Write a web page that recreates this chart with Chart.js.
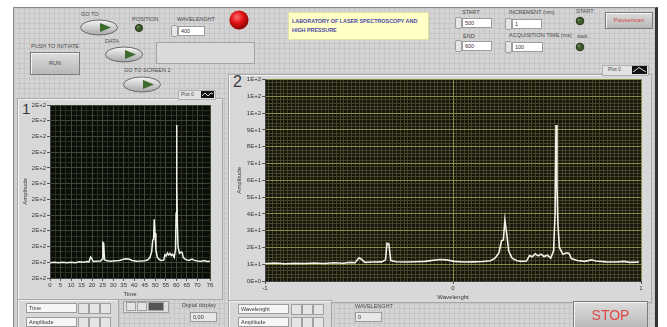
<!DOCTYPE html>
<html>
<head>
<meta charset="utf-8">
<script src="https://cdn.jsdelivr.net/npm/chart.js@4.4.1/dist/chart.umd.min.js"></script>
<style>
  html, body { margin: 0; padding: 0; }
  body { width: 667px; height: 327px; position: relative; overflow: hidden; background: #fff;
         font-family: "Liberation Sans", Arial, sans-serif; }
  .abs { position: absolute; }
  #panel { left: 13px; top: 7px; width: 641px; height: 322px; background-color: #d4d4d4;
           background-image: linear-gradient(#c6c6c6 1px, transparent 1px), linear-gradient(90deg, #c6c6c6 1px, transparent 1px);
           background-size: 5px 5px; border-left: 1px solid #8a8a8a; border-top: 1px solid #8a8a8a; border-right: 3px solid #333; }
  .lbl { position: absolute; font-size: 5.5px; color: #4a4a4a; white-space: nowrap; line-height: 1; }
  .box { position: absolute; background: #fff; border: 1px solid #9c9c9c; font-size: 5.5px; line-height: 8px;
         height: 8px; padding-left: 2px; color: #333; box-sizing: content-box; }
  .spin { position: absolute; width: 5px; height: 10px; border: 1px solid #a0a0a0; border-radius: 2px; background: #e6e6e6; }
  .frame { position: absolute; background: #d8d8d8; border: 1px solid #a8a8a8; box-shadow: inset 1px 1px 0 #f2f2f2; }
  .btn { position: absolute; background: linear-gradient(#dcdcdc, #b8b8b8); border: 1px solid #7c7c7c;
         box-shadow: inset 1px 1px 0 #f4f4f4; text-align: center; }
  .digit { position: absolute; font-size: 15px; color: #3c3c3c; line-height: 1; }
  .tool { position: absolute; width: 9px; height: 9px; border: 1px solid #a0a0a0; background: #e4e4e4; }
  canvas { position: absolute; }
</style>
</head>
<body>
<div id="panel" class="abs"></div>

<!-- top left controls -->
<div class="lbl" style="left:81px;top:12px">GO TO</div>
<svg class="abs" style="left:79px;top:19px" width="40" height="17">
  <defs><linearGradient id="g1" x1="0" y1="0" x2="0" y2="1"><stop offset="0" stop-color="#f6f6f6"/><stop offset="1" stop-color="#a6a6a6"/></linearGradient></defs>
  <ellipse cx="20" cy="8.5" rx="18.5" ry="7.5" fill="url(#g1)" stroke="#6a6a6a"/>
  <path d="M21 4 L32 8.5 L21 13 Z" fill="#3a6a2c"/>
</svg>
<div class="lbl" style="left:132px;top:17px">POSITION</div>
<svg class="abs" style="left:134px;top:23px" width="10" height="10"><circle cx="5" cy="5" r="3.6" fill="#3d5a2a" stroke="#2a3a1c"/><circle cx="4" cy="4" r="1.2" fill="#6f8a55"/></svg>
<div class="lbl" style="left:177px;top:17px">WAVELENGHT</div>
<div class="spin" style="left:171px;top:25px"></div>
<div class="box" style="left:178px;top:26px;width:23px">400</div>
<svg class="abs" style="left:228px;top:9px" width="22" height="22">
  <defs><radialGradient id="r1" cx="0.4" cy="0.35" r="0.65"><stop offset="0" stop-color="#ff7070"/><stop offset="0.5" stop-color="#e01212"/><stop offset="1" stop-color="#8a0606"/></radialGradient></defs>
  <circle cx="11" cy="11" r="9.6" fill="url(#r1)"/>
</svg>
<div class="abs" style="left:288px;top:12px;width:139px;height:26px;background:#ffffc6;border:1px solid #e2e2a8;">
  <div style="position:absolute;left:3px;top:4px;font-size:5.4px;font-weight:bold;color:#4848a8;line-height:8.5px;white-space:nowrap">LABORATORY OF LASER SPECTROSCOPY AND<br>HIGH PRESSURE</div>
</div>
<div class="lbl" style="left:31px;top:44px">PUSH TO INITIATE</div>
<div class="btn" style="left:30px;top:52px;width:48px;height:21px;font-size:5.5px;line-height:21px;color:#444">RUN</div>
<div class="lbl" style="left:105px;top:39px">DATA</div>
<svg class="abs" style="left:104px;top:46px" width="40" height="17">
  <ellipse cx="20" cy="8.5" rx="18.5" ry="7.5" fill="url(#g1)" stroke="#6a6a6a"/>
  <path d="M21 4 L32 8.5 L21 13 Z" fill="#3a6a2c"/>
</svg>
<div class="abs" style="left:156px;top:42px;width:97px;height:20px;background:#dadada;border:1px solid #a4a4a4"></div>
<div class="lbl" style="left:124px;top:68px">GO TO SCREEN 2</div>
<svg class="abs" style="left:122px;top:76px" width="40" height="17">
  <ellipse cx="20" cy="8.5" rx="18.5" ry="7.5" fill="url(#g1)" stroke="#6a6a6a"/>
  <path d="M21 4 L32 8.5 L21 13 Z" fill="#3a6a2c"/>
</svg>

<!-- top right controls -->
<div class="lbl" style="left:462px;top:10px">START</div>
<div class="spin" style="left:455px;top:17px"></div>
<div class="box" style="left:462px;top:18px;width:26px">500</div>
<div class="lbl" style="left:463px;top:34px">END</div>
<div class="spin" style="left:455px;top:40px"></div>
<div class="box" style="left:462px;top:41px;width:26px">600</div>
<div class="lbl" style="left:509px;top:10px">INCREMENT (nm)</div>
<div class="spin" style="left:505px;top:18px"></div>
<div class="box" style="left:512px;top:19px;width:26px">1</div>
<div class="lbl" style="left:509px;top:33px">ACQUISITION TIME (ms)</div>
<div class="spin" style="left:505px;top:41px"></div>
<div class="box" style="left:512px;top:42px;width:27px">100</div>
<div class="lbl" style="left:576px;top:9px">START</div>
<svg class="abs" style="left:575px;top:16px" width="10" height="10"><circle cx="5" cy="5" r="3.8" fill="#3d5a2a" stroke="#2a3a1c"/><circle cx="4" cy="4" r="1.2" fill="#6f8a55"/></svg>
<div class="lbl" style="left:577px;top:35px;font-size:4.5px">stack</div>
<svg class="abs" style="left:575px;top:42px" width="10" height="10"><circle cx="5" cy="5" r="3.8" fill="#3d5a2a" stroke="#2a3a1c"/><circle cx="4" cy="4" r="1.2" fill="#6f8a55"/></svg>
<div class="btn" style="left:605px;top:12px;width:46px;height:15px;font-size:6px;line-height:15px;color:#d24a4a">Pause/start</div>

<!-- graph 1 -->
<div class="frame" style="left:17px;top:98px;width:204px;height:200px"></div>
<div class="digit" style="left:22px;top:101px">1</div>
<div class="abs" style="left:178px;top:90px;width:36px;height:8px;background:#e2e2e2;border:1px solid #b0b0b0"></div>
<div class="lbl" style="left:181px;top:92px;font-size:5px">Plot 0</div>
<svg class="abs" style="left:201px;top:91px" width="13" height="7"><rect width="13" height="7" fill="#111"/><polyline points="1,5 4,2 7,5 10,2 12,3" fill="none" stroke="#eee" stroke-width="0.9"/></svg>
<canvas id="timeChart" width="202" height="198" style="left:18px;top:100px"></canvas>

<!-- graph 2 -->
<div class="frame" style="left:228px;top:74px;width:422px;height:227px"></div>
<div class="digit" style="left:233px;top:74px;font-size:16px">2</div>
<div class="abs" style="left:602px;top:65px;width:45px;height:9px;background:#e2e2e2;border:1px solid #b0b0b0"></div>
<div class="lbl" style="left:608px;top:67px;font-size:5px">Plot 0</div>
<svg class="abs" style="left:632px;top:66px" width="15" height="8"><rect width="15" height="8" fill="#111"/><polyline points="1,6 7,1.5 14,6" fill="none" stroke="#eee" stroke-width="0.9"/></svg>
<canvas id="waveChart" width="420" height="226" style="left:229px;top:75px"></canvas>

<!-- bottom strip graph 1 -->
<div class="frame" style="left:17px;top:299px;width:100px;height:30px"></div>
<div class="box" style="left:26px;top:303px;width:47px;background:#f6f6f6">Time</div>
<div class="tool" style="left:78px;top:303px"></div><div class="tool" style="left:89px;top:303px"></div><div class="tool" style="left:100px;top:303px"></div>
<div class="box" style="left:26px;top:317px;width:47px;background:#f6f6f6">Amplitude</div>
<div class="tool" style="left:78px;top:317px"></div><div class="tool" style="left:89px;top:317px"></div><div class="tool" style="left:100px;top:317px"></div>
<div class="abs" style="left:123px;top:301px;width:44px;height:10px;background:#dedede;border:1px solid #a0a0a0"></div>
<div class="tool" style="left:126px;top:302px;width:8px;height:7px"></div><div class="tool" style="left:137px;top:302px;width:8px;height:7px"></div><div class="tool" style="left:148px;top:302px;width:14px;height:7px;background:#555"></div>
<div class="lbl" style="left:182px;top:303px">Digital display</div>
<div class="box" style="left:190px;top:312px;width:23px;background:#e8e8e8">0,00</div>

<!-- bottom strip graph 2 -->
<div class="frame" style="left:228px;top:300px;width:102px;height:30px"></div>
<div class="box" style="left:238px;top:304px;width:47px;background:#f6f6f6">Wavelenght</div>
<div class="tool" style="left:291px;top:304px"></div><div class="tool" style="left:302px;top:304px"></div><div class="tool" style="left:313px;top:304px"></div>
<div class="box" style="left:238px;top:317px;width:47px;background:#f6f6f6">Amplitude</div>
<div class="tool" style="left:291px;top:317px"></div><div class="tool" style="left:302px;top:317px"></div><div class="tool" style="left:313px;top:317px"></div>
<div class="lbl" style="left:355px;top:304px">WAVELENGHT</div>
<div class="box" style="left:355px;top:312px;width:23px;background:#e8e8e8">0</div>
<div class="btn" style="left:573px;top:301px;width:73px;height:27px;font-size:14px;line-height:27px;color:#e04848">STOP</div>

<script>
// ======================
// DATA
// ======================

// x positions of the trace on graph 1 (time axis)
const timeAxis = [
  0, 2, 4, 6, 8, 10, 12, 14, 16, 17.5,
  18.5, 19.3, 19.8, 20.5, 22, 24, 24.8, 25.1, 25.5, 25.9,
  27, 29, 31, 33, 34.5, 36, 37.5, 39, 41, 43,
  45, 46.5, 47.5, 48.3, 48.8, 49.2, 49.5, 49.9, 50.3, 51,
  52, 53, 54, 54.6, 55.2, 55.8, 56.4, 57, 57.6, 58.3,
  59, 59.6, 59.9, 60.1, 60.3, 60.5, 60.8, 61.5, 62.3, 62.8,
  63.3, 64.5, 66, 67.5, 68.3, 70, 72, 73.5, 74.5, 76
];

// x positions of the same trace on graph 2 (wavelength axis)
const waveAxis = [
  -1.000, -0.945, -0.893, -0.842, -0.790, -0.739, -0.688, -0.636, -0.585, -0.546,
  -0.521, -0.500, -0.487, -0.469, -0.431, -0.379, -0.359, -0.351, -0.341, -0.331,
  -0.302, -0.251, -0.200, -0.148, -0.110, -0.071, -0.033, 0.006, 0.057, 0.109,
  0.160, 0.199, 0.224, 0.245, 0.258, 0.268, 0.276, 0.286, 0.296, 0.314,
  0.340, 0.366, 0.391, 0.407, 0.422, 0.437, 0.453, 0.468, 0.484, 0.502,
  0.520, 0.535, 0.543, 0.548, 0.553, 0.558, 0.566, 0.584, 0.605, 0.617,
  0.630, 0.661, 0.700, 0.738, 0.759, 0.815, 0.870, 0.910, 0.940, 0.990
];

// amplitude of the trace
const amplitude = [
  10.4, 10.7, 10.3, 10.6, 10.4, 10.7, 10.4, 10.9, 10.6, 11.1,
  10.9, 13.8, 13.0, 11.1, 11.3, 11.4, 12.6, 22.5, 22.0, 12.2,
  11.5, 11.3, 11.5, 11.7, 12.3, 12.8, 12.6, 11.7, 11.3, 11.4,
  11.6, 12.1, 13.6, 17.0, 24.0, 24.5, 36.4, 28.0, 18.0, 13.6,
  12.1, 11.7, 11.9, 15.2, 14.4, 16.2, 15.0, 16.0, 14.6, 15.4,
  13.6, 18.0, 40.0, 93.0, 58.0, 34.0, 20.0, 16.0, 16.8, 16.4,
  13.4, 12.2, 11.7, 12.6, 11.9, 11.4, 11.3, 11.7, 11.1, 11.3
];

// tick labels
const timeTicks = [0, 5, 10, 15, 20, 25, 30, 35, 40, 45, 50, 55, 60, 65, 70, 76];
const timeYLabel = "2E+2";
const waveTicks = [-1, 0, 1];
const waveYLabels = ["0E+0", "1E+1", "2E+1", "3E+1", "4E+1", "5E+1", "6E+1",
                     "7E+1", "8E+1", "9E+1", "1E+2", "1E+2", "1E+2"];

// ======================
// HELPERS
// ======================

const plotBackground = {
  id: "plotBackground",
  beforeDraw(chart, args, opts) {
    const { ctx, chartArea: a } = chart;
    ctx.save();
    ctx.fillStyle = opts.color;
    ctx.fillRect(a.left, a.top, a.width, a.height);
    ctx.restore();
  }
};

const smallFont = { family: "'Liberation Sans', Arial, sans-serif", size: 6 };

function evenTicks(scale, count) {
  const step = (scale.max - scale.min) / count;
  const ticks = [];
  for (let i = 0; i <= count; i++) ticks.push({ value: scale.min + i * step });
  scale.ticks = ticks;
}

// ======================
// GRAPH 1 : TIME
// ======================

new Chart(document.getElementById("timeChart"), {
  type: "line",
  data: {
    datasets: [{
      data: timeAxis.map((t, i) => ({ x: t, y: amplitude[i] })),
      borderColor: "#f2f2ea",
      borderWidth: 1.5,
      pointRadius: 0,
      tension: 0
    }]
  },
  plugins: [plotBackground],
  options: {
    responsive: false,
    animation: false,
    layout: { padding: { top: 5, right: 10, left: 0, bottom: 0 } },
    plugins: {
      legend: { display: false },
      tooltip: { enabled: false },
      plotBackground: { color: "#0b0e08" }
    },
    scales: {
      xMinor: {
        type: "linear", position: "bottom", min: 0, max: 76,
        ticks: { display: false, stepSize: 2.5 },
        grid: { color: "#27301f", z: -2, drawTicks: false },
        border: { display: false },
        afterFit: s => { s.height = 0; }
      },
      yMinor: {
        type: "linear", position: "left", min: 1.2, max: 105,
        afterBuildTicks: s => evenTicks(s, 33),
        ticks: { display: false },
        grid: { color: "#27301f", z: -2, drawTicks: false },
        border: { display: false },
        afterFit: s => { s.width = 0; }
      },
      x: {
        type: "linear", position: "bottom", min: 0, max: 76,
        afterBuildTicks: s => { s.ticks = timeTicks.map(v => ({ value: v })); },
        ticks: { font: smallFont, color: "#333", padding: 1, maxRotation: 0, autoSkip: false },
        grid: { color: "#3d4a33", tickColor: "#555", tickLength: 3 },
        border: { color: "#444" },
        title: { display: true, text: "Time", font: smallFont, color: "#333", padding: 0 },
        afterFit: s => { s.height = 20; }
      },
      y: {
        type: "linear", position: "left", min: 1.2, max: 105,
        afterBuildTicks: s => evenTicks(s, 11),
        ticks: { font: smallFont, color: "#333", padding: 1, callback: () => timeYLabel },
        grid: { color: "#3d4a33", tickColor: "#555", tickLength: 3 },
        border: { color: "#444" },
        title: { display: true, text: "Amplitude", font: smallFont, color: "#333", padding: { top: 4, bottom: 0 } },
        afterFit: s => { s.width = 32; }
      }
    }
  }
});

// ======================
// GRAPH 2 : WAVELENGHT
// ======================

new Chart(document.getElementById("waveChart"), {
  type: "line",
  data: {
    datasets: [{
      data: waveAxis.map((w, i) => ({ x: w, y: amplitude[i] })),
      borderColor: "#f2f2ea",
      borderWidth: 1.6,
      pointRadius: 0,
      tension: 0
    }]
  },
  plugins: [plotBackground],
  options: {
    responsive: false,
    animation: false,
    layout: { padding: { top: 4, right: 8, left: 0, bottom: 0 } },
    plugins: {
      legend: { display: false },
      tooltip: { enabled: false },
      plotBackground: { color: "#15150c" }
    },
    scales: {
      xMinor: {
        type: "linear", position: "bottom", min: -1, max: 1,
        ticks: { display: false, stepSize: 0.02 },
        grid: { color: "#45452a", z: -2, drawTicks: false },
        border: { display: false },
        afterFit: s => { s.height = 0; }
      },
      yMinor: {
        type: "linear", position: "left", min: 0, max: 120,
        ticks: { display: false, stepSize: 2 },
        grid: { color: "#45452a", z: -2, drawTicks: false },
        border: { display: false },
        afterFit: s => { s.width = 0; }
      },
      x: {
        type: "linear", position: "bottom", min: -1, max: 1,
        afterBuildTicks: s => { s.ticks = waveTicks.map(v => ({ value: v })); },
        ticks: { font: smallFont, color: "#333", padding: 1, maxRotation: 0, autoSkip: false },
        grid: { color: "#8c8a48", tickColor: "#555", tickLength: 3 },
        border: { color: "#444" },
        title: { display: true, text: "Wavelenght", font: smallFont, color: "#333", padding: 0 },
        afterFit: s => { s.height = 20; }
      },
      y: {
        type: "linear", position: "left", min: 0, max: 120,
        ticks: { font: smallFont, color: "#333", padding: 1, stepSize: 10,
                 callback: (v, i) => waveYLabels[i] },
        grid: { color: "#8c8a48", tickColor: "#555", tickLength: 3 },
        border: { color: "#444" },
        title: { display: true, text: "Amplitude", font: smallFont, color: "#333", padding: { top: 7, bottom: 0 } },
        afterFit: s => { s.width = 36; }
      }
    }
  }
});
</script>
</body>
</html>
